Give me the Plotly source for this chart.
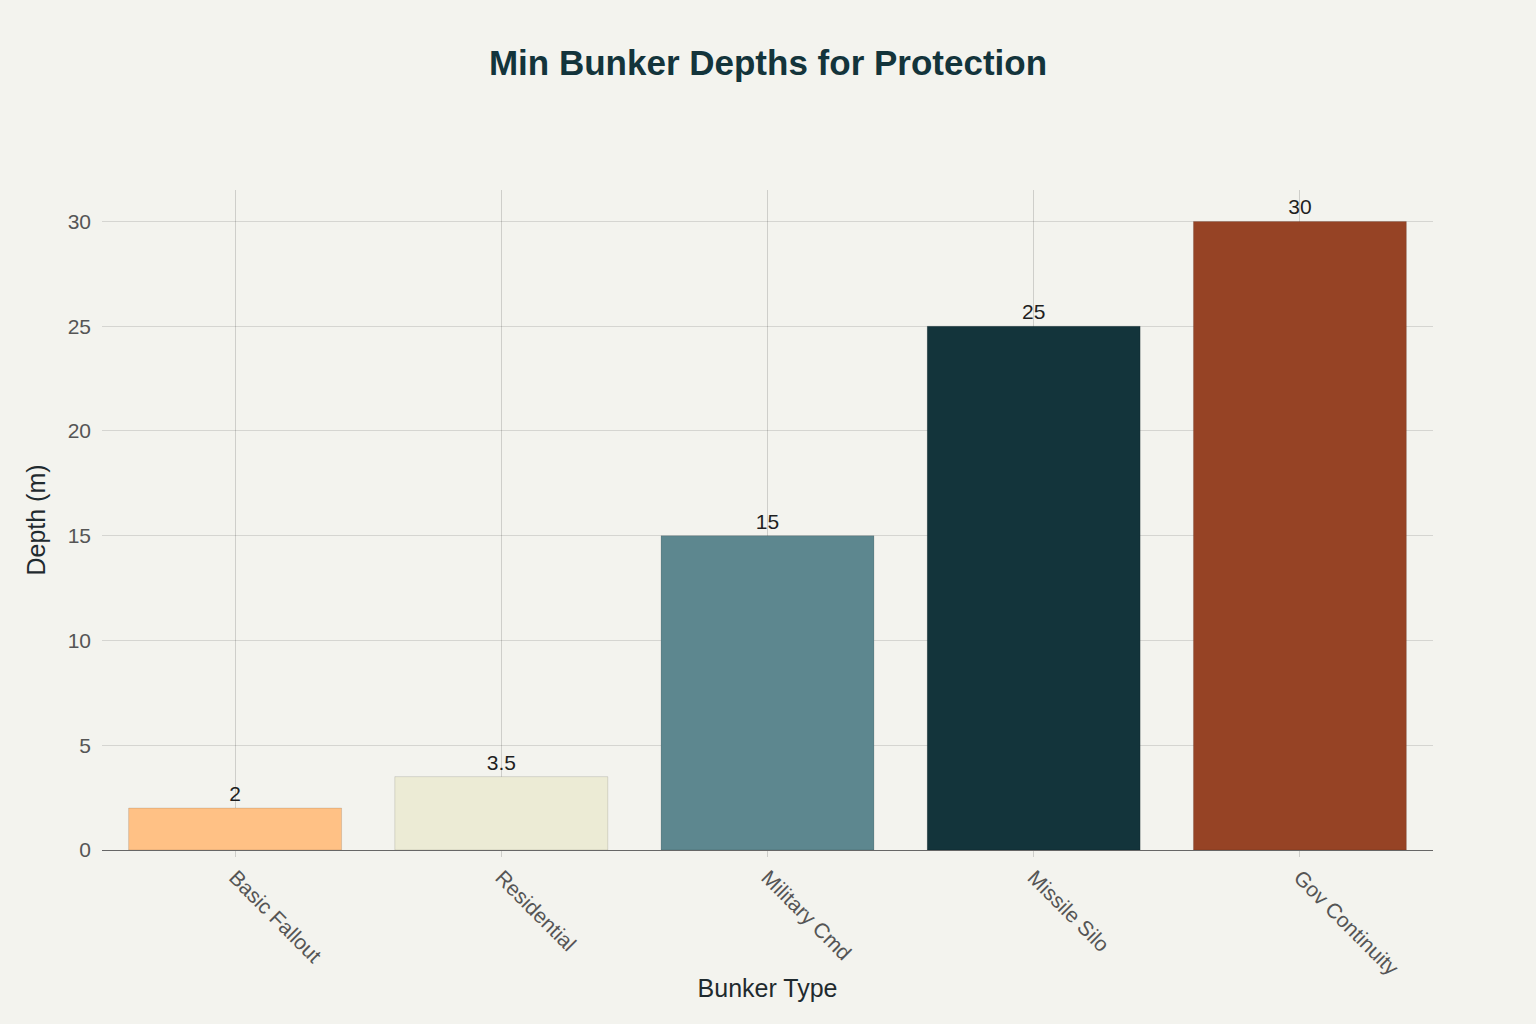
import plotly.graph_objects as go

bunker_types = ["Basic Fallout", "Residential", "Military Cmd", "Missile Silo", "Gov Continuity"]
depths_m = [2, 3.5, 15, 25, 30]
bar_colors = ["#FFC185", "#ECEBD5", "#5D878F", "#13343B", "#964325"]
y_ticks = [0, 5, 10, 15, 20, 25, 30]

fig = go.Figure(
    go.Bar(
        x=bunker_types,
        y=depths_m,
        marker=dict(color=bar_colors, line=dict(color="rgba(0,0,0,0.12)", width=1)),
        text=[f"{v:g}" for v in depths_m],
        textposition="outside",
        textfont=dict(size=21, color="#1f1f1f"),
        cliponaxis=False,
        width=0.8,
    )
)

fig.update_layout(
    title=dict(
        text="<b>Min Bunker Depths for Protection</b>",
        x=0.5,
        xanchor="center",
        y=1 - 63 / 1024,
        yanchor="middle",
        font=dict(size=35, color="#13343B"),
    ),
    font=dict(family="Liberation Sans, Arial, sans-serif", size=21, color="#555"),
    paper_bgcolor="#F3F3EE",
    plot_bgcolor="#F3F3EE",
    width=1536,
    height=1024,
    margin=dict(l=102, r=103, t=190, b=174),
    showlegend=False,
)
fig.update_xaxes(
    title=dict(text="Bunker Type", font=dict(size=25, color="#1f2a2e"), standoff=0),
    tickangle=45,
    showgrid=True,
    gridcolor="rgba(0,0,0,0.15)",
    ticks="outside",
    tickcolor="rgba(0,0,0,0.15)",
    ticklen=6,
    showline=True,
    linecolor="#666",
    tickfont=dict(size=21, color="#555"),
)
fig.update_yaxes(
    title=dict(text="Depth (m)", font=dict(size=25, color="#1f2a2e"), standoff=14),
    range=[0, 31.5],
    tickvals=y_ticks,
    showgrid=True,
    gridcolor="rgba(0,0,0,0.12)",
    zeroline=False,
    ticklabelstandoff=10,
    tickfont=dict(size=21, color="#555"),
)

# the page body has an 8px default margin; drop it so the chart sits at 0,0
fig.write_html(
    "out.html",
    config={"displayModeBar": False},
    post_script="document.body.style.margin='0';",
)
